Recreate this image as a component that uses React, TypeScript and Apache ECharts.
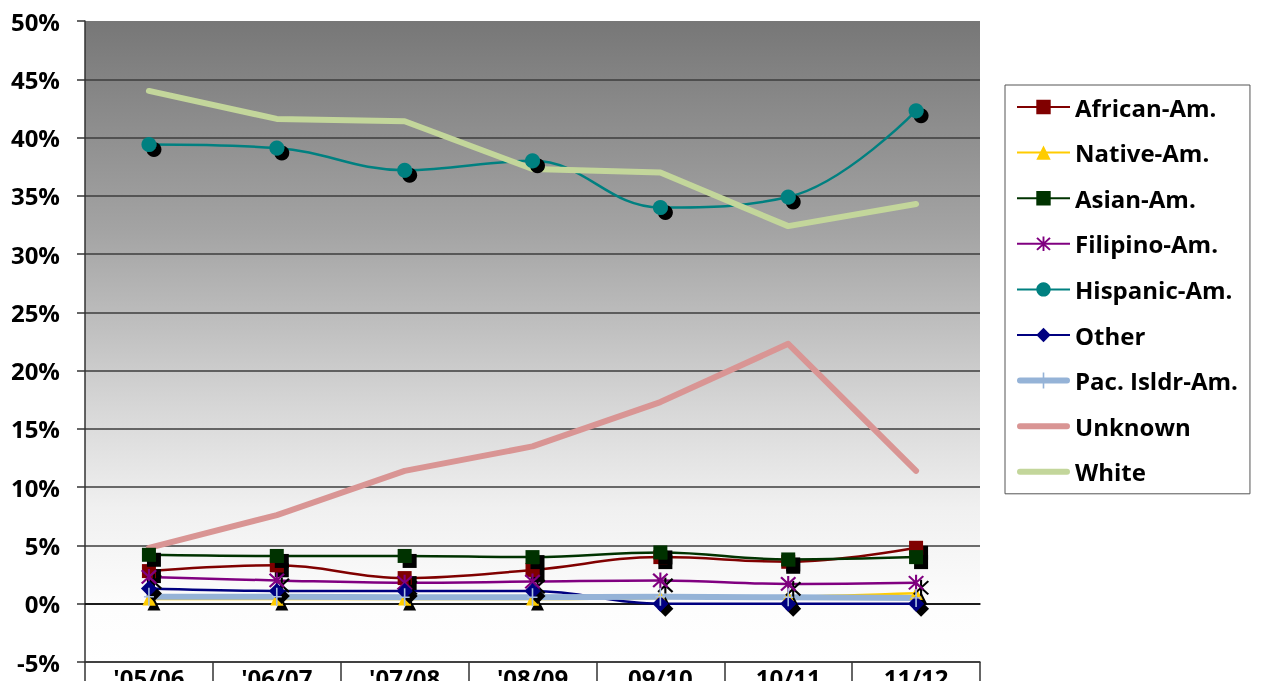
import React, { useEffect, useRef } from "react";
import * as echarts from "echarts";

const categories = ["'05/06", "'06/07", "'07/08", "'08/09", "09/10", "10/11", "11/12"];
const africanAm = [2.8, 3.3, 2.2, 2.9, 4.0, 3.6, 4.8];
const nativeAm = [0.4, 0.4, 0.4, 0.4, 0.5, 0.6, 0.9];
const asianAm = [4.2, 4.1, 4.1, 4.0, 4.4, 3.8, 4.0];
const filipinoAm = [2.3, 2.0, 1.8, 1.9, 2.0, 1.7, 1.8];
const hispanicAm = [39.4, 39.1, 37.2, 38.0, 34.0, 34.9, 42.3];
const other = [1.3, 1.1, 1.1, 1.1, 0.0, 0.0, 0.0];
const pacIsldrAm = [0.6, 0.6, 0.55, 0.55, 0.6, 0.55, 0.5];
const unknown = [4.8, 7.6, 11.4, 13.5, 17.3, 22.3, 11.4];
const white = [44.0, 41.6, 41.4, 37.3, 37.0, 32.4, 34.3];

const FONT = "'Open Sans', 'DejaVu Sans', sans-serif";

const asterisk =
  "path://M4.4 0 H5.6 V10 H4.4 Z M0.4 1.3 L1.3 0.4 L9.6 8.7 L8.7 9.6 Z M8.7 0.4 L9.6 1.3 L1.3 9.6 L0.4 8.7 Z";
const plus = "path://M0 9.2 H10 V10.8 H0 Z M4.2 0 H5.8 V20 H4.2 Z";
const thickBar = "path://M3 5 H50 A3 3 0 0 1 50 11 H3 A3 3 0 0 1 3 5 Z M0 0 H0.01 V0.01 H0 Z M53 16 H52.99 V15.99 H53 Z";
const thickBarPlus =
  "path://M3 5 H50 A3 3 0 0 1 50 11 H3 A3 3 0 0 1 3 5 Z M25.7 0 H27.3 V16 H25.7 Z M0 0 H0.01 V0.01 H0 Z M53 16 H52.99 V15.99 H53 Z";

const shadow = {
  shadowColor: "#000",
  shadowBlur: 0,
  shadowOffsetX: 5,
  shadowOffsetY: 5,
};

function markerSeries(
  name: string,
  data: number[],
  color: string,
  symbol: string,
  size: number | number[]
) {
  return {
    name,
    type: "line",
    data,
    smooth: 0.4,
    symbol,
    symbolSize: size,
    showAllSymbol: true,
    lineStyle: { color, width: 2.5 },
    itemStyle: { color, borderWidth: 0, ...shadow },
    emphasis: { disabled: true },
  };
}

function thickSeries(name: string, data: number[], color: string, symbol = "none", size: any = 0, symColor = color) {
  return {
    name,
    type: "line",
    data,
    smooth: false,
    symbol,
    symbolSize: size,
    showAllSymbol: true,
    lineStyle: { color, width: 6, cap: "round", join: "round" },
    itemStyle: { color: symColor, borderWidth: 0 },
    emphasis: { disabled: true },
  };
}

export default function App() {
  const ref = useRef<HTMLDivElement>(null);
  useEffect(() => {
    const chart = echarts.init(ref.current!, null, { renderer: "svg" });
    const option = {
      animation: false,
      grid: {
        left: 85,
        right: 284,
        top: 21,
        bottom: 19,
        outerBoundsMode: "none",
        containLabel: false,
        show: true,
        borderWidth: 0,
        backgroundColor: new echarts.graphic.LinearGradient(0, 0, 0, 1, [
          { offset: 0, color: "#777777" },
          { offset: 0.33, color: "#a4a4a4" },
          { offset: 0.61, color: "#d8d8d8" },
          { offset: 0.76, color: "#f0f0f0" },
          { offset: 0.92, color: "#fdfdfd" },
          { offset: 1, color: "#ffffff" },
        ]),
      },
      legend: {
        orient: "vertical",
        left: 1005,
        top: 85,
        padding: [10, 12, 10, 11],
        itemGap: 21.6,
        itemWidth: 53,
        itemHeight: 18,
        borderColor: "#555",
        borderWidth: 1,
        backgroundColor: "#fff",
        selectedMode: false,
        textStyle: { fontFamily: FONT, fontWeight: "bold", fontSize: 24, color: "#000", lineHeight: 24 },
        itemStyle: { shadowBlur: 0, shadowOffsetX: 0, shadowOffsetY: 0, shadowColor: "rgba(0,0,0,0)" },
        data: [
          "African-Am.",
          "Native-Am.",
          "Asian-Am.",
          "Filipino-Am.",
          "Hispanic-Am.",
          "Other",
          { name: "Pac. Isldr-Am.", icon: thickBarPlus, itemStyle: { color: "#95b3d7" } },
          { name: "Unknown", icon: thickBar },
          { name: "White", icon: thickBar },
        ],
      },
      xAxis: [
        {
          type: "category",
          data: categories,
          boundaryGap: true,
          position: "bottom",
          axisLine: { onZero: false, lineStyle: { color: "#333", width: 1.5 } },
          axisTick: { show: true, length: 30, interval: 0, lineStyle: { color: "#333", width: 1.5 } },
          axisLabel: { margin: 3, interval: 0, fontSize: 24, fontWeight: "bold", fontFamily: FONT, color: "#000" },
          splitLine: { show: false },
        },
        {
          type: "category",
          data: categories,
          position: "top",
          axisLine: { show: true, onZero: true, lineStyle: { color: "#000", width: 1.5 } },
          axisTick: { show: false },
          axisLabel: { show: false },
          splitLine: { show: false },
        },
      ],
      yAxis: {
        type: "value",
        min: -5,
        max: 50,
        interval: 5,
        axisLine: { show: true, lineStyle: { color: "#333", width: 1.5 } },
        axisTick: { show: true, length: 8, lineStyle: { color: "#333", width: 1.5 } },
        axisLabel: {
          formatter: "{value}%",
          margin: 25,
          fontSize: 24,
          fontWeight: "bold",
          fontFamily: FONT,
          color: "#000",
        },
        splitLine: { show: true, showMaxLine: false, lineStyle: { color: "#3c3c3c", width: 1.5 } },
      },
      series: [
        markerSeries("African-Am.", africanAm, "#800000", "rect", 14),
        markerSeries("Native-Am.", nativeAm, "#ffcc00", "triangle", 13),
        markerSeries("Asian-Am.", asianAm, "#003300", "rect", 14),
        markerSeries("Filipino-Am.", filipinoAm, "#800080", asterisk, 16),
        markerSeries("Hispanic-Am.", hispanicAm, "#008080", "circle", 15),
        markerSeries("Other", other, "#000080", "diamond", [16, 16]),
        thickSeries("Pac. Isldr-Am.", pacIsldrAm, "#95b3d7", plus, [10, 18], "#a9c0e0"),
        thickSeries("Unknown", unknown, "#d99594"),
        thickSeries("White", white, "#c3d69b"),
      ],
    };
    chart.setOption(option as any);
    return () => chart.dispose();
  }, []);
  return <div ref={ref} style={{ position: "fixed", left: 0, top: 0, width: 1264, height: 681 }} />;
}
